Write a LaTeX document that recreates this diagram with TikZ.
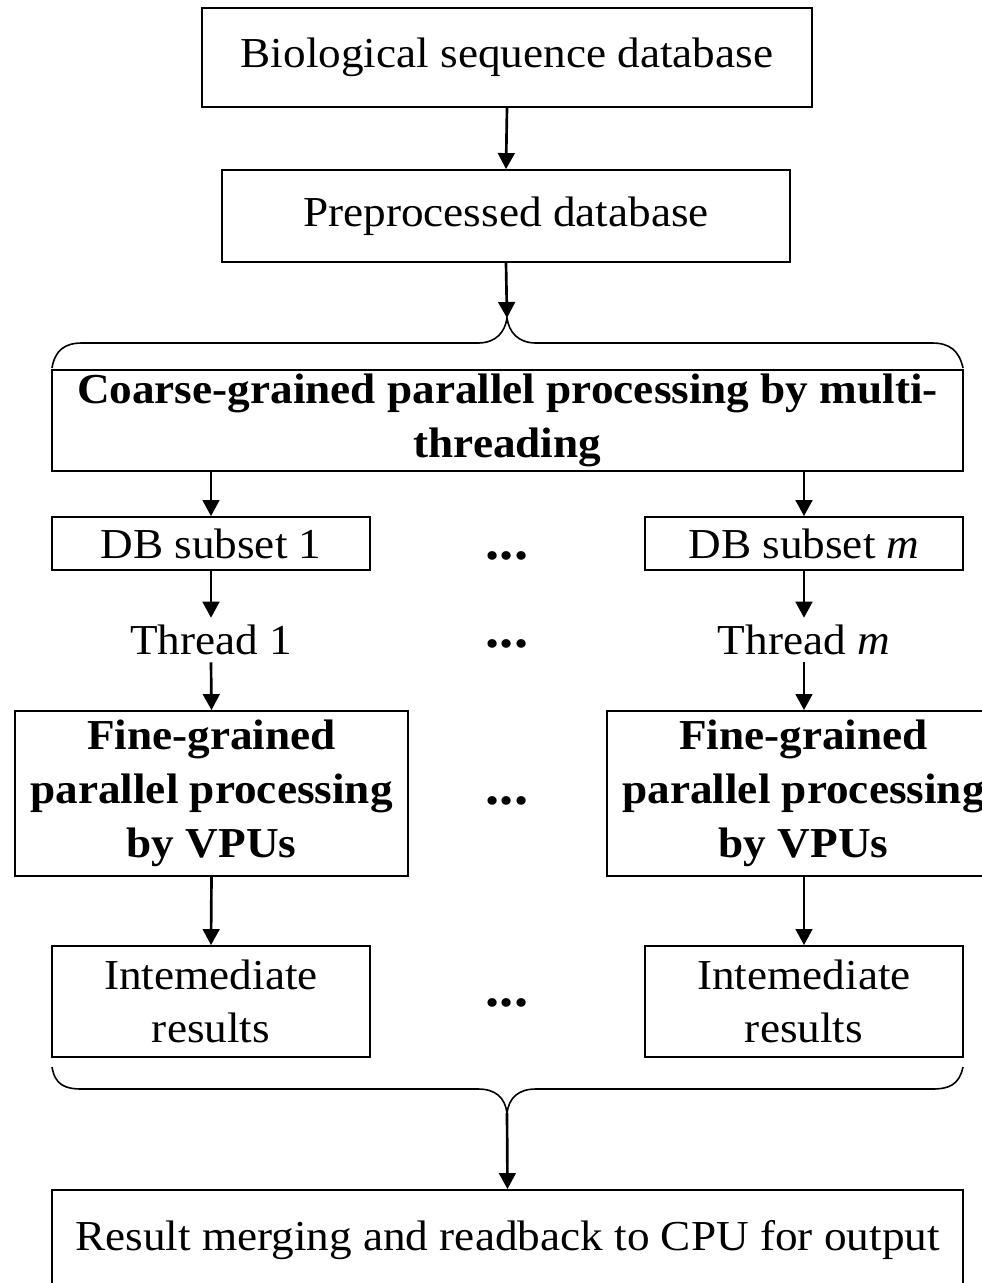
\documentclass[tikz,border=0pt]{standalone}
\usepackage{fontspec}
\setmainfont{Liberation Serif}[FakeStretch=1.06]
\usetikzlibrary{arrows.meta}
\newdimen\pxu \pxu=0.75pt
\begin{document}
\begin{tikzpicture}[x=0.75pt,y=-0.75pt,
  box/.style={draw, line width=1.4pt, inner sep=0pt, align=center, font=\fontsize{32}{40}\selectfont},
  bbox/.style={box, font=\fontsize{32}{40.5}\selectfont\bfseries},
  lbl/.style={inner sep=0pt, font=\fontsize{32}{40}\selectfont},
  dots/.style={inner sep=0pt, anchor=base, font=\fontsize{40}{40}\selectfont\bfseries},
  arr/.style={line width=2pt, -{Triangle[length=12pt,width=12.5pt]}},
  brace/.style={line width=1.2pt}]
\useasboundingbox (0,0) rectangle (982,1283);
% top boxes
\node[box, minimum width=610\pxu, minimum height=99\pxu] (b1) at (507,57.5) {Biological sequence database};
\node[box, minimum width=568\pxu, minimum height=92\pxu] (b2) at (506,216) {Preprocessed database};
% brace top
\coordinate (btop) at (507,318);
\draw[brace] (52,368) .. controls (55,350) and (65,343) .. (82,343) -- (478,343)
  .. controls (496,343) and (505,332) .. (btop)
  .. controls (509,332) and (518,343) .. (536,343) -- (932,343)
  .. controls (949,343) and (959,350) .. (963,368);
% coarse
\node[bbox, minimum width=911\pxu, minimum height=101\pxu] (cg) at (507.5,420.5) {Coarse-grained parallel processing by multi-\\threading};
% DB subsets
\node[box, minimum width=318\pxu, minimum height=53\pxu] (db1) at (211,543.5) {DB subset 1};
\node[box, minimum width=318\pxu, minimum height=53\pxu] (dbm) at (804,543.5) {DB subset \textit{m}};
\node[dots] (d1) at (507,559) {...};
% threads
\node[lbl, minimum height=44\pxu] (th1) at (211,640) {Thread 1};
\node[lbl, minimum height=44\pxu] (thm) at (804,640) {Thread \textit{m}};
\node[dots] (d2) at (507,647) {...};
% fine-grained
\node[bbox, minimum width=393\pxu, minimum height=165\pxu] (f1) at (211.5,793.5) {Fine-grained\\parallel processing\\by VPUs};
\node[bbox, minimum width=393\pxu, minimum height=165\pxu] (fm) at (803.5,793.5) {Fine-grained\\parallel processing\\by VPUs};
\node[dots] (d3) at (507,804) {...};
% intermediate
\node[box, minimum width=318\pxu, minimum height=111\pxu] (i1) at (211,1001.5) {Intemediate\\results};
\node[box, minimum width=318\pxu, minimum height=111\pxu] (im) at (804,1001.5) {Intemediate\\results};
\node[dots] (d4) at (507,1006) {...};
% brace bottom
\coordinate (bbot) at (507,1113);
\draw[brace] (52,1067) .. controls (55,1085) and (65,1089) .. (82,1089) -- (478,1089)
  .. controls (496,1089) and (505,1098) .. (bbot)
  .. controls (509,1098) and (518,1089) .. (536,1089) -- (932,1089)
  .. controls (949,1089) and (959,1085) .. (963,1067);
% result
\node[box, minimum width=911\pxu, minimum height=110\pxu] (res) at (507.5,1245) {};
\node[lbl] (rest) at (507.5,1240) {Result merging and readback to CPU for output};
% arrows
\draw[arr] (b1.south) -- (b2.north);
\draw[arr] (b2.south) -- (btop);
\draw[arr] (cg.south -| db1.north) -- (db1.north);
\draw[arr] (cg.south -| dbm.north) -- (dbm.north);
\draw[arr] (db1.south) -- (th1.north);
\draw[arr] (dbm.south) -- (thm.north);
\draw[arr] (th1.south) -- (f1.north);
\draw[arr] (thm.south) -- (f1.north -| thm.south);
\draw[arr] (f1.south) -- (i1.north);
\draw[arr] (fm.south -| im.north) -- (im.north);
\draw[arr] (bbot) -- (res.north);
\end{tikzpicture}
\end{document}
